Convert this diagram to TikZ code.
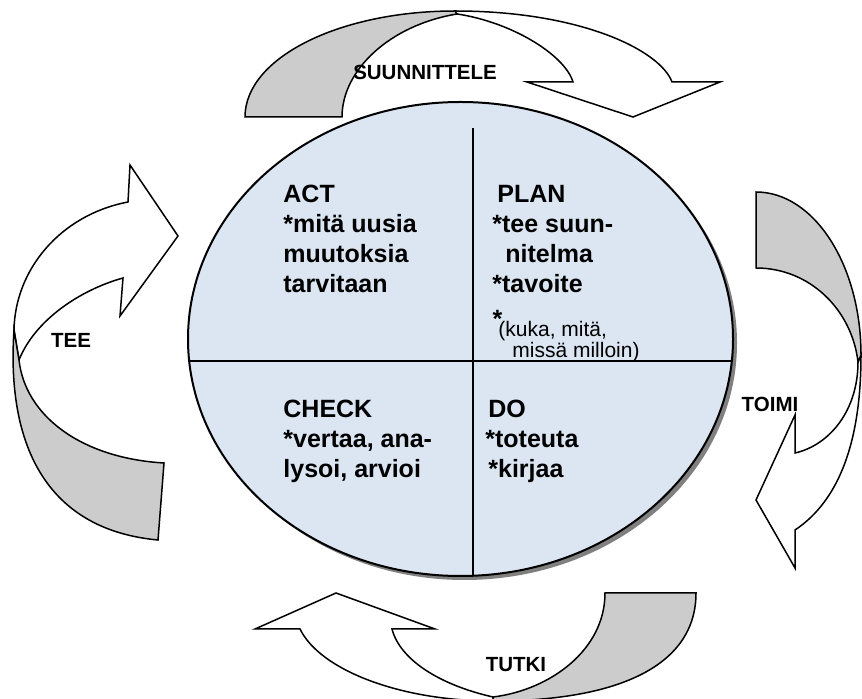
\documentclass[tikz,border=0pt]{standalone}
\usepackage{fontspec}
\setmainfont{Liberation Sans}
\usetikzlibrary{positioning}
\usetikzlibrary{calc}
\definecolor{pdcablue}{RGB}{220,230,242}
\definecolor{foldgray}{RGB}{204,204,204}
\definecolor{shadowgray}{RGB}{128,128,128}

\begin{document}
\begin{tikzpicture}[x=0.5pt,y=-0.5pt,
band/.style={draw,line width=0.75pt,fill=white,line join=miter},
fold/.style={band,fill=foldgray},
lbl/.style={font=\fontsize{10.25}{12}\selectfont\bfseries,inner sep=0pt},
quad/.style={font=\fontsize{12.5}{15}\selectfont\bfseries,align=left,inner sep=0pt,anchor=base west},
note/.style={font=\fontsize{10.5}{10.5}\selectfont,align=left,inner sep=0pt,anchor=base west}]
\useasboundingbox (0,0) rectangle (862,699);

% circle of the four phases
\fill[shadowgray] (464.5,343) ellipse [x radius=272.5, y radius=237];
\draw[fill=pdcablue,line width=1pt] (460.5,339) ellipse [x radius=272.5, y radius=237];
\draw[line width=0.75pt] (189,361) -- (732,361);
\draw[line width=0.75pt] (473,128) -- (473,576);

% top arrow
\draw[band] (455,11) .. controls (580,11) and (660,50) .. (672,82) -- (720,82) -- (633,117) -- (527,82) -- (573,82)
  .. controls (565,55) and (510,20) .. (450,13) -- cycle;
\draw[fold] (245,117) .. controls (245,58) and (339,11) .. (455,11) -- (457,14)
  .. controls (390,25) and (342,70) .. (342,117) -- cycle;

% right arrow
\draw[band] (861,355) .. controls (861,440) and (840,500) .. (795,530) -- (795,568) -- (756,500) -- (795,415) -- (795,453)
  .. controls (830,445) and (858,410) .. (858,362) -- cycle;
\draw[fold] (756,192) .. controls (814,192) and (861,265) .. (861,355) -- (858,362)
  .. controls (852,310) and (810,268) .. (756,268) -- cycle;

% bottom arrow
\draw[band] (493,701) .. controls (400,701) and (320,670) .. (300,629) -- (255,629) -- (336,593) -- (435,629) -- (392,629)
  .. controls (400,660) and (440,685) .. (493,697) -- cycle;
\draw[fold] (605,593) -- (696,593) .. controls (696,665) and (620,701) .. (493,701) -- (493,697)
  .. controls (550,690) and (605,650) .. (605,593) -- cycle;

% left arrow
\draw[band] (128,202) .. controls (60,215) and (15,270) .. (14,330) -- (19,360)
  .. controls (35,320) and (80,290) .. (123,278) -- (120,316) -- (178,236) -- (130,165) -- cycle;
\draw[fold] (14,330) .. controls (6,450) and (50,530) .. (158,540) -- (164,463)
  .. controls (80,458) and (25,415) .. (19,360) -- cycle;

% arrow labels
\node[lbl] (suunnittele) at (425,72) {SUUNNITTELE};
\node[lbl] (tee) at (71,340) {TEE};
\node[lbl] (toimi) at (770,404) {TOIMI};
\node[lbl] (tutki) at (516,665) {TUTKI};

% quadrants (anchored at the last line)
\node[quad] (act) at (283,293) {ACT\\*mitä uusia\\muutoksia\\tarvitaan};
\node[quad] (plan) at (492,293) {\hspace{2.5pt}PLAN\\*tee suun-\\\hspace{6.5pt}nitelma\\*tavoite};
\node[note] (planNote) at (498,358) {\llap{\raisebox{4.5pt}{\fontsize{12.5}{15}\selectfont\bfseries *}\kern-2pt}(kuka, mitä,\\\hspace{7pt}missä milloin)};
\node[quad] (check) at (283,478) {CHECK\\*vertaa, ana-\\lysoi, arvioi};
\node[quad] (do) at (485,478) {\hspace{1.5pt}DO\\*toteuta\\\hspace{1.5pt}*kirjaa};
\end{tikzpicture}
\end{document}
